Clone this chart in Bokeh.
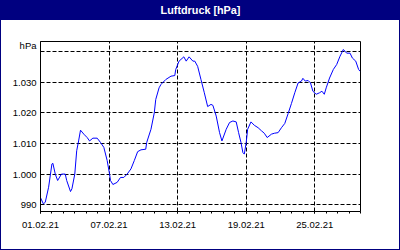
import pandas as pd
from bokeh.plotting import figure
from bokeh.models import FixedTicker, DatetimeTickFormatter, Range1d, LinearAxis
from bokeh.embed import file_html
from bokeh.resources import INLINE

# ---- data -------------------------------------------------------------
chart_title = "Luftdruck [hPa]"
unit_label = "hPa"
start_date = "2021-02-01"
end_date = "2021-03-01"

hours = [0, 6, 10, 17, 24, 26, 31, 36, 44, 52, 55, 63, 66, 72, 76, 80, 84, 91, 98,
         103, 110, 119, 126, 133, 140, 145, 147, 152, 161, 168, 175, 182, 190, 197,
         204, 211, 221, 223, 232, 239, 242, 249, 253, 263, 274, 282, 284, 291, 301,
         306, 312, 320, 324, 330, 337, 344, 351, 358, 362, 369, 376, 381, 390, 397,
         404, 411, 416, 421, 425, 428, 432, 435, 442, 449, 457, 464, 470, 476, 485,
         491, 499, 506, 513, 520, 527, 534, 541, 548, 551, 556, 562, 567, 572, 579,
         586, 591, 596, 600, 607, 615, 622, 629, 636, 643, 650, 655, 662, 668, 671]
pressure = [992.3, 990.3, 990.8, 995.7, 1003.3, 1003.5, 1000.0, 997.9, 1000.0, 1000.0,
            997.9, 994.3, 995.2, 1000.0, 1007.6, 1010.8, 1014.3, 1013.0, 1011.9,
            1010.8, 1011.7, 1011.7, 1010.3, 1008.7, 1004.4, 1000.0, 997.9, 996.6,
            997.3, 998.9, 998.9, 1000.0, 1001.7, 1004.4, 1007.3, 1007.9, 1008.1,
            1010.3, 1014.6, 1020.0, 1024.3, 1028.1, 1029.2, 1030.8, 1031.9, 1032.1,
            1034.1, 1036.8, 1038.2, 1036.8, 1038.2, 1036.8, 1036.8, 1035.1, 1030.8,
            1026.5, 1022.0, 1022.7, 1022.4, 1018.9, 1013.5, 1010.8, 1014.6, 1016.8,
            1017.3, 1017.0, 1013.5, 1010.3, 1007.0, 1006.5, 1010.3, 1014.6, 1017.0,
            1015.9, 1015.1, 1014.1, 1013.3, 1011.9, 1013.0, 1013.3, 1013.5, 1015.1,
            1016.5, 1019.7, 1023.0, 1026.5, 1029.7, 1030.3, 1031.2, 1030.3, 1030.5,
            1029.7, 1027.0, 1026.0, 1026.5, 1027.0, 1026.0, 1028.1, 1031.3, 1034.1,
            1035.7, 1038.4, 1040.6, 1039.4, 1039.4, 1037.8, 1036.8, 1034.1, 1033.5]

x_major_dates = ["2021-02-01", "2021-02-07", "2021-02-13", "2021-02-19", "2021-02-25"]
y_ticks = [990, 1000, 1010, 1020, 1030, 1040]
y_tick_labels = ["990", "1.000", "1.010", "1.020", "1.030", ""]
unit_label_at = 1041.8
y_min, y_max = 987.8, 1043.2

# ---- figure -----------------------------------------------------------
t0 = pd.Timestamp(start_date)
times = t0 + pd.to_timedelta(hours, unit="h")


def ms(ts):
    return pd.Timestamp(ts).value / 1e6


major_ms = [ms(d) for d in x_major_dates]
minor_ms = [ms(d) for d in pd.date_range(start_date, end_date, freq="D")]

p = figure(width=400, height=250, x_axis_type="datetime",
           x_range=Range1d(pd.Timestamp(start_date), pd.Timestamp(end_date)),
           y_range=Range1d(y_min, y_max),
           output_backend="svg", toolbar_location=None,
           min_border_left=40, min_border_right=40,
           min_border_top=40, min_border_bottom=39,
           border_fill_color=None, background_fill_color="white",
           outline_line_color="black", outline_line_width=1)
p.title.text = ""
p.title_location = None

# navy title bar and thin navy frame around the white chart area
p.styles = {
    "background": "linear-gradient(to bottom, #000080 0px, #000080 20px, #ffffff 20px, #ffffff 100%)",
    "box-shadow": "inset 1px 0 0 #000080, inset -1px 0 0 #000080, inset 0 -1px 0 #000080",
}

# chart heading, carried by a tickless axis above the frame (sits in the navy bar)
heading = LinearAxis(ticker=FixedTicker(ticks=[]), axis_line_color=None,
                     major_tick_line_color=None, minor_tick_line_color=None,
                     major_tick_in=0, major_tick_out=0, minor_tick_in=0, minor_tick_out=0,
                     major_label_standoff=0,
                     axis_label=chart_title, axis_label_standoff=26,
                     axis_label_text_color="white",
                     axis_label_text_font="Liberation Sans",
                     axis_label_text_font_style="bold",
                     axis_label_text_font_size="10.8px")
p.add_layout(heading, "above")

font = "Liberation Sans"
fsize = "9.5px"

xa = p.below[0]
xa.ticker = FixedTicker(ticks=major_ms, minor_ticks=minor_ms)
fmt = "%d.%m.%y"
xa.formatter = DatetimeTickFormatter(milliseconds=fmt, seconds=fmt, minsec=fmt, minutes=fmt,
                                     hourmin=fmt, hours=fmt, days=fmt, months=fmt, years=fmt)
xa.axis_line_color = "black"
xa.major_tick_line_color = "black"
xa.minor_tick_line_color = "black"
xa.major_tick_in = 0
xa.major_tick_out = 2
xa.minor_tick_in = 0
xa.minor_tick_out = 2
xa.major_label_standoff = 8
xa.major_label_text_font = font
xa.major_label_text_font_size = fsize
xa.major_label_text_color = "black"

ya = p.left[0]
ya.ticker = FixedTicker(ticks=y_ticks + [unit_label_at])
overrides = {t: l for t, l in zip(y_ticks, y_tick_labels)}
overrides[unit_label_at] = unit_label
ya.major_label_overrides = overrides
ya.axis_line_color = "black"
ya.major_tick_line_color = None
ya.minor_tick_line_color = None
ya.major_tick_in = 0
ya.major_tick_out = 0
ya.major_label_standoff = 4
ya.major_label_text_font = font
ya.major_label_text_font_size = fsize
ya.major_label_text_color = "black"

p.xgrid[0].ticker = FixedTicker(ticks=major_ms)
p.ygrid[0].ticker = FixedTicker(ticks=y_ticks)
for g in (p.xgrid[0], p.ygrid[0]):
    g.grid_line_color = "black"
    g.grid_line_dash = "4 2"
    g.grid_line_width = 1
    g.grid_line_alpha = 1.0

p.line(x=times, y=pressure, line_color="#0000ff", line_width=1)

open("out.html", "w").write(file_html(p, INLINE))
